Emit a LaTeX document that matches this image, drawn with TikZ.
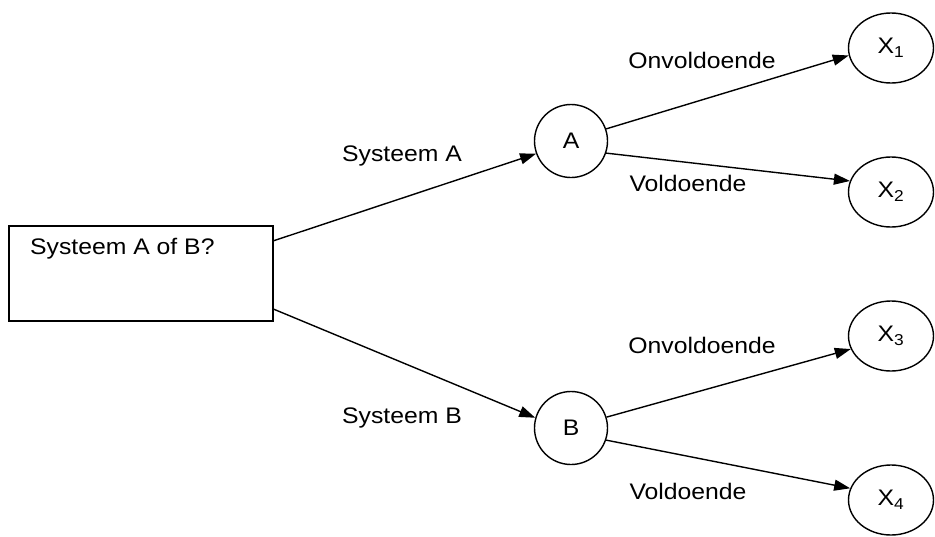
\documentclass[tikz,border=0pt]{standalone}
\usepackage{fontspec}
\setmainfont{Liberation Sans}[FakeStretch=1.1]
\usetikzlibrary{shapes.geometric,arrows.meta,calc}
\begin{document}
\begin{tikzpicture}[x=1pt,y=-1pt,
  every node/.style={font=\fontsize{22.5}{27}\selectfont},
  edge/.style={line width=1.4pt,-{Triangle[length=16pt,width=11pt]}},
  chance/.style={draw,circle,line width=1.4pt,minimum size=73pt,inner sep=0pt},
  leaf/.style={draw,ellipse,line width=1.4pt,minimum width=85pt,minimum height=70pt,inner sep=0pt},
  decision/.style={draw,rectangle,line width=1.4pt,minimum width=264pt,minimum height=95pt,inner sep=0pt},
  lbl/.style={inner sep=0pt}]
\useasboundingbox (0,0) rectangle (935,536);
\node[decision] (box) at (141,273.5) {};
\node[lbl,anchor=west] (boxtext) at (30,249) {Systeem A of B?};
\node[chance] (A) at (571,141) {A};
\node[chance] (B) at (571,428) {B};
\node[leaf] (X1) at (891,48) {X\textsubscript{1}};
\node[leaf] (X2) at (891,192) {X\textsubscript{2}};
\node[leaf] (X3) at (891,336) {X\textsubscript{3}};
\node[leaf] (X4) at (891,500) {X\textsubscript{4}};
\draw[edge] ($(box.north east)!0.16!(box.south east)$) -- (A.200);
\draw[edge] ($(box.north east)!0.87!(box.south east)$) -- (B.164);
\draw[edge] (A.19) -- (X1.190);
\draw[edge] (A.341) -- (X2.165);
\draw[edge] (B.17) -- (X3.198);
\draw[edge] (B.341) -- (X4.164);
\node[lbl] (la) at (402,156) {Systeem A};
\node[lbl] (lb) at (402,418) {Systeem B};
\node[lbl] (o1) at (702,60) {Onvoldoende};
\node[lbl] (v1) at (688,183) {Voldoende};
\node[lbl] (o2) at (702,345) {Onvoldoende};
\node[lbl] (v2) at (688,491) {Voldoende};
\end{tikzpicture}
\end{document}
